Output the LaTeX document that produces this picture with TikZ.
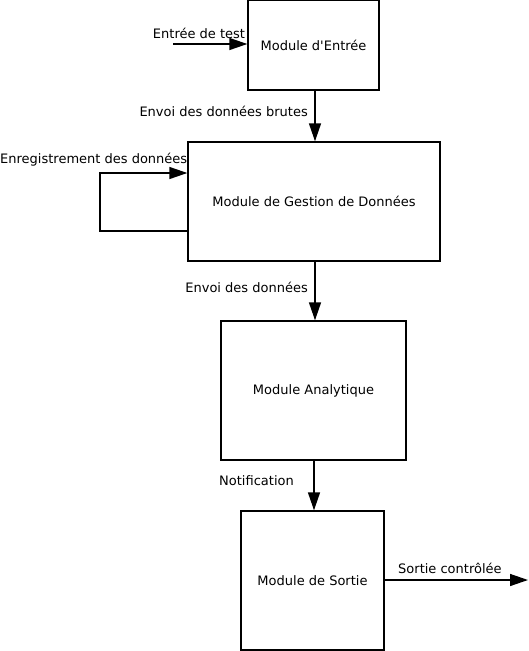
\documentclass[tikz,border=0pt]{standalone}
\usepackage{fontspec}
\setmainfont{DejaVu Sans}[Ligatures=TeXOff]
\usetikzlibrary{arrows.meta, positioning}

\tikzset{
  module/.style={draw, line width=1.4pt, align=center, font=\fontsize{13}{15}\selectfont, inner sep=0pt},
  fleche/.style={line width=1.4pt, -{Triangle[length=18pt,width=12pt]}},
  etiquette/.style={font=\fontsize{13}{15}\selectfont, inner sep=0pt}
}

\begin{document}
\begin{tikzpicture}[x=1pt,y=-1pt]
		\useasboundingbox (0,0) rectangle (529,651);

		% Modules
		\node[module, minimum width=131pt, minimum height=90pt] (entree) at (313.5,45) {Module d'Entrée};
		\node[module, minimum width=252pt, minimum height=119pt] (gestion) at (314,201.5) {Module de Gestion de Données};
		\node[module, minimum width=185pt, minimum height=139pt] (analytique) at (313.5,390.5) {Module Analytique};
		\node[module, minimum width=143pt, minimum height=139pt] (sortie) at (312.5,580.5) {Module de Sortie};

		% Entree et sortie
		\coordinate (debut) at (173,44);
		\coordinate (fin) at (528,580);
		\draw[fleche] (debut) -- (entree.west |- debut);
		\node[etiquette] (lblTest) at (199,33) {Entrée de test};
		\draw[fleche] (sortie.east |- fin) -- (fin);
		\node[etiquette, anchor=west] (lblSortie) at (398,568) {Sortie contrôlée};

		% Liaisons verticales
		\draw[fleche] (entree.south -| 315,0) -- (gestion.north -| 315,0);
		\node[etiquette, anchor=east] (lblBrutes) at (308,111) {Envoi des données brutes};
		\draw[fleche] (gestion.south -| 315,0) -- (analytique.north -| 315,0);
		\node[etiquette, anchor=east] (lblEnvoi) at (308,287) {Envoi des données};
		\draw[fleche] (analytique.south -| 314,0) -- (sortie.north -| 314,0);
		\node[etiquette, anchor=east] (lblNotif) at (294,481) {Notification};

		% Boucle d'enregistrement
		\coordinate (coin) at (100,173);
		\draw[fleche] ([yshift=-29.5pt]gestion.west) -| (coin) -- (gestion.west |- coin);
		\node[etiquette, anchor=west] (lblEnreg) at (0,160) {Enregistrement des données};
	\end{tikzpicture}
\end{document}
